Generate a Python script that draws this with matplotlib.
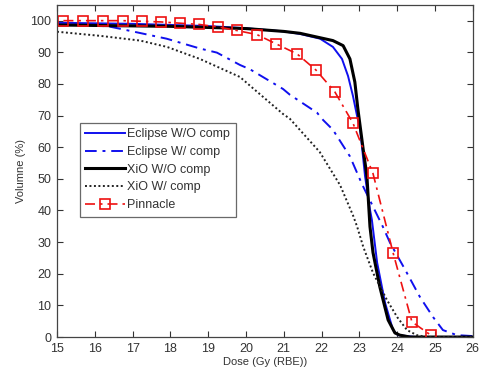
import matplotlib
matplotlib.use('Agg')
import matplotlib.pyplot as plt

plt.rcParams['font.family'] = ['Liberation Sans', 'DejaVu Sans']

# dose-volume curves
eclipse_wo_x = [15.0, 15.2, 17.0, 19.0, 20.0, 21.0, 21.43, 21.96, 22.30, 22.54, 22.70, 22.83, 22.94, 23.02,
                23.15, 23.28, 23.33, 23.47, 23.68, 23.89, 24.02, 24.26, 24.5, 26.0]
eclipse_wo_y = [99.3, 99.3, 99.0, 98.3, 97.6, 96.6, 95.8, 94.3, 91.7, 87.9, 82.5, 76.2, 69.8, 65.7,
                50.8, 40.3, 37.1, 23.5, 10.8, 2.2, 0.6, 0.3, 0.0, 0.0]

eclipse_w_x = [15.0, 15.5, 16.4, 17.0, 17.9, 18.78, 19.23, 19.84, 20.11, 20.98, 21.16, 21.88, 22.04, 22.30,
               22.75, 23.07, 23.62, 23.81, 24.21, 24.60, 24.95, 25.21, 25.58, 26.0]
eclipse_w_y = [99.2, 99.0, 98.1, 96.6, 94.3, 91.2, 89.9, 86.0, 84.6, 78.4, 76.6, 70.9, 68.6, 65.5,
               57.1, 48.3, 34.9, 29.8, 21.3, 12.7, 6.3, 2.2, 0.6, 0.3]

xio_wo_x = [15.0, 15.2, 18.0, 20.0, 21.0, 21.43, 22.30, 22.57, 22.75, 22.88, 22.96, 23.10, 23.20, 23.28,
            23.36, 23.54, 23.76, 23.94, 24.07, 24.34, 26.0]
xio_wo_y = [98.6, 98.6, 98.2, 97.5, 96.6, 96.0, 93.7, 92.1, 87.9, 80.6, 72.1, 59.4, 50.8, 34.9,
            26.7, 15.9, 5.4, 1.3, 0.6, 0.0, 0.0]

xio_w_x = [15.0, 16.14, 17.20, 17.91, 18.78, 19.84, 20.11, 20.98, 21.16, 21.95, 22.49, 22.83, 22.94, 23.10,
           23.36, 23.73, 24.0, 24.26, 24.52, 24.79, 26.0]
xio_w_y = [96.5, 95.2, 93.7, 91.7, 87.9, 82.2, 79.4, 70.5, 69.0, 58.5, 48.0, 38.5, 34.9, 28.6,
           20.3, 11.7, 6.3, 2.2, 0.6, 0.0, 0.0]

pinnacle_x = [15.17, 15.70, 16.21, 16.74, 17.24, 17.75, 18.25, 18.76, 19.27, 19.75,
              20.29, 20.79, 21.35, 21.85, 22.35, 22.83, 23.36, 23.89, 24.39, 24.89]
pinnacle_y = [100.0, 100.0, 100.0, 100.0, 99.8, 99.6, 99.2, 98.8, 98.0, 96.9,
              95.6, 92.7, 89.5, 84.4, 77.5, 67.6, 51.7, 26.7, 4.8, 0.6]

labels = ['Eclipse W/O comp', 'Eclipse W/ comp', 'XiO W/O comp', 'XiO W/ comp', 'Pinnacle']

fig = plt.figure(figsize=(4.79, 3.72), dpi=100)
ax = fig.add_axes([0.119, 0.094, 0.868, 0.893])

ax.plot(eclipse_wo_x, eclipse_wo_y, color='#1010ee', lw=1.4, label=labels[0])
ax.plot(eclipse_w_x, eclipse_w_y, color='#1010ee', lw=1.4, ls=(0, (6, 3, 1.5, 3)), label=labels[1])
ax.plot(xio_wo_x, xio_wo_y, color='black', lw=2.2, label=labels[2])
ax.plot(xio_w_x, xio_w_y, color='#222222', lw=1.4, ls=(0, (1, 1.3)), label=labels[3])
ax.plot(pinnacle_x, pinnacle_y, color='#ee1111', lw=1.2, ls=(0, (6, 3, 1.5, 3)),
        marker='s', ms=7, mfc='none', mec='#ee1111', mew=1.2, label=labels[4])

ax.set_xlim(15, 26)
ax.set_ylim(0, 105)
ax.set_xticks(range(15, 27))
ax.set_yticks(range(0, 101, 10))
ax.tick_params(direction='in', length=4, top=True, right=True, labelsize=9,
               colors='#333333')
ax.tick_params(axis='x', pad=4.5)
ax.tick_params(axis='y', pad=4)
for s in ax.spines.values():
    s.set_color('#444444')
    s.set_linewidth(0.9)

ax.set_xlabel('Dose (Gy (RBE))', fontsize=8, color='#333333', labelpad=1)
ax.set_ylabel('Volumne (%)', fontsize=8, color='#333333', labelpad=3)

leg = ax.legend(loc='upper left', bbox_to_anchor=(0.055, 0.645), fontsize=9, frameon=True,
                fancybox=False, edgecolor='#444444', handlelength=3.2, handletextpad=0.15,
                labelspacing=0.45, borderpad=0.45, borderaxespad=0)
leg.get_frame().set_linewidth(0.9)
for t in leg.get_texts():
    t.set_color('#333333')

fig.savefig('out.png', dpi=100)
